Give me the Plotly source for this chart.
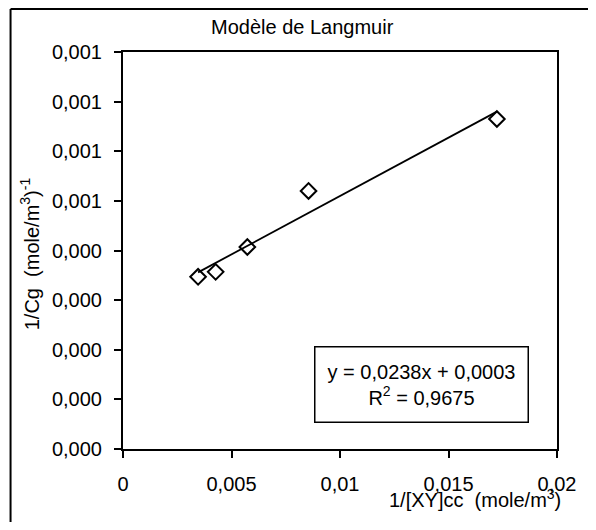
import numpy as np
import plotly.graph_objects as go

# data
inv_xy = [0.00346, 0.00427, 0.00573, 0.00855, 0.01723]
inv_cg = [0.000347, 0.000357, 0.000407, 0.000520, 0.000665]

x_ticks = [0, 0.005, 0.01, 0.015, 0.02]
x_tick_text = ["0", "0,005", "0,01", "0,015", "0,02"]
y_ticks = [0, 0.0001, 0.0002, 0.0003, 0.0004, 0.0005, 0.0006, 0.0007, 0.0008]
y_tick_text = ["0,000", "0,000", "0,000", "0,000", "0,000",
               "0,001", "0,001", "0,001", "0,001"]

eq_text = "y = 0,0238x + 0,0003<br>R<sup>2</sup> = 0,9675"

# linear trendline fitted on the points
slope, intercept = np.polyfit(inv_xy, inv_cg, 1)
x_fit = np.array([min(inv_xy), max(inv_xy)])
y_fit = slope * x_fit + intercept

FONT = "Liberation Sans, Arial, sans-serif"
FS = 20

# page body has an 8px margin, so the figure sits at (8, 8) on screen
OFF = 8
W, H = 580, 514
# plot area on screen: x 123..563, y 52..449
L, T = 123 - OFF, 52 - OFF
R, B = W - (563 - OFF), H - (449 - OFF)
pw, ph = W - L - R, H - T - B


def px(x):
    # screen x -> paper x
    return (x - OFF - L) / pw


def py(y):
    # screen y -> paper y
    return (H - B - (y - OFF)) / ph


fig = go.Figure()
fig.add_trace(go.Scatter(x=x_fit, y=y_fit, mode='lines',
                         line=dict(color='black', width=1.8), showlegend=False))
fig.add_trace(go.Scatter(x=inv_xy, y=inv_cg, mode='markers', showlegend=False,
                         marker=dict(symbol='diamond-open', size=12, color='black',
                                     line=dict(color='black', width=2))))

axis_common = dict(showline=True, linecolor='black', linewidth=2, mirror=True,
                   ticks='outside', ticklen=7, tickwidth=2, tickcolor='black',
                   showgrid=False, zeroline=False,
                   tickfont=dict(family=FONT, size=FS, color='black'))

fig.update_xaxes(range=[0, 0.02], tickvals=x_ticks, ticktext=x_tick_text,
                 ticklabelstandoff=9, **axis_common)
fig.update_yaxes(range=[0, 0.0008], tickvals=y_ticks, ticktext=y_tick_text,
                 ticklabelstandoff=8, **axis_common)

# chart area frame: only left and top edges are inside the reference crop
frame = dict(type='line', xref='paper', yref='paper', line=dict(color='black', width=2))
fig.add_shape(x0=px(9), x1=px(9), y0=py(600), y1=py(9), **frame)
fig.add_shape(x0=px(9), x1=px(640), y0=py(9), y1=py(9), **frame)

ann = dict(xref='paper', yref='paper', showarrow=False,
           xanchor='center', yanchor='middle')
fig.add_annotation(x=px(305), y=py(27), text="Modèle de Langmuir",
                   font=dict(family=FONT, size=FS, color='black'), **ann)
fig.add_annotation(x=px(480), y=py(498), text="1/[XY]cc  (mole/m<sup>3</sup>)",
                   font=dict(family=FONT, size=FS, color='black'), **ann)
fig.add_annotation(x=px(29), y=py(254), text="1/Cg  (mole/m<sup>3</sup>)<sup>-1</sup>",
                   textangle=-90, font=dict(family=FONT, size=FS, color='black'), **ann)
fig.add_annotation(x=px(425.5), y=py(384.5), text=eq_text, align='center',
                   width=212, height=74, borderpad=0,
                   bordercolor='black', borderwidth=1.5, bgcolor='white',
                   font=dict(family=FONT, size=FS, color='black'), **ann)

fig.update_layout(width=W, height=H, margin=dict(l=L, r=R, t=T, b=B),
                  paper_bgcolor='white', plot_bgcolor='white',
                  font=dict(family=FONT, size=FS, color='black'))

fig.write_html("out.html")
